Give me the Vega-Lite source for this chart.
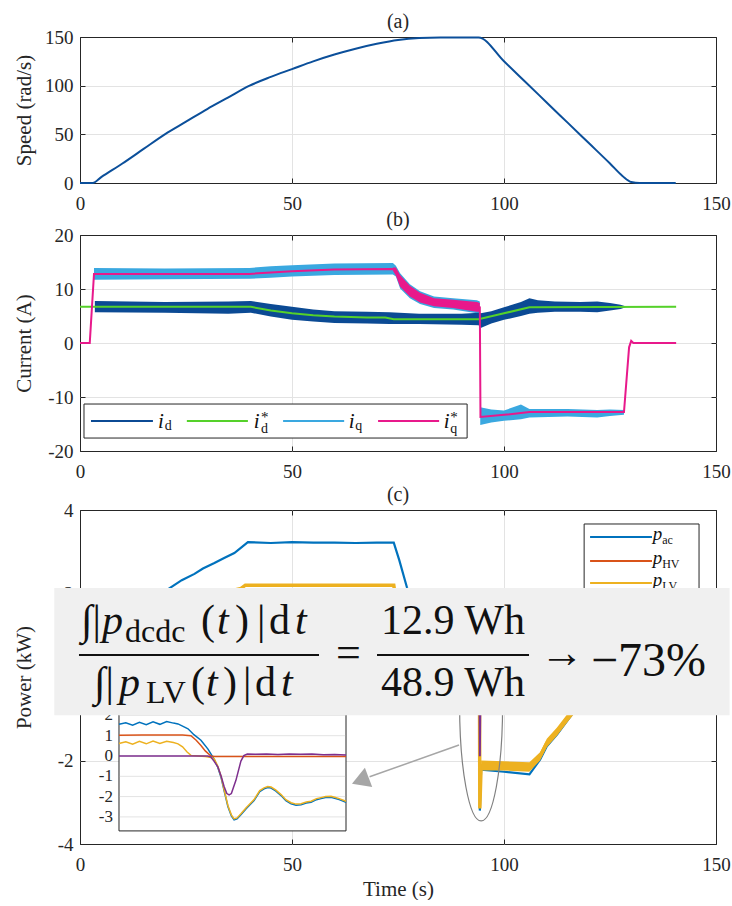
{
"$schema": "https://vega.github.io/schema/vega-lite/v6.json",
"background": "white",
"padding": {"left": 12, "top": 11, "right": 0, "bottom": 0},
"config": {
  "view": {"stroke": "#262626", "strokeWidth": 1},
  "font": "'Liberation Serif', 'DejaVu Serif', serif",
  "axis": {"labelFont": "'Liberation Serif', 'DejaVu Serif', serif", "labelFontSize": 19, "labelColor": "#262626", "titleFont": "'Liberation Serif', 'DejaVu Serif', serif", "titleFontSize": 21, "titleFontWeight": "normal", "titleColor": "#262626", "gridColor": "#e3e3e3", "gridWidth": 1, "domain": false, "tickColor": "#262626", "tickSize": -5, "tickWidth": 1, "labelFlush": false, "labelOverlap": false},
  "axisX": {"labelPadding": 16},
  "axisY": {"labelPadding": 12},
  "title": {"font": "'Liberation Serif', 'DejaVu Serif', serif", "fontSize": 20, "fontWeight": "normal", "color": "#262626", "offset": -4, "frame": "group"}
},
"datasets": {
  "speed": [{"t":0,"v":0},{"t":3,"v":0},{"t":5,"v":6},{"t":10,"v":20},{"t":15,"v":35},{"t":20,"v":50},{"t":25,"v":63},{"t":30,"v":76},{"t":35,"v":88},{"t":40,"v":100},{"t":45,"v":109},{"t":50,"v":117},{"t":55,"v":125},{"t":60,"v":132},{"t":65,"v":138},{"t":70,"v":143},{"t":75,"v":147},{"t":80,"v":149},{"t":85,"v":149.5},{"t":94,"v":149.5},{"t":100,"v":125},{"t":105,"v":104},{"t":110,"v":83},{"t":115,"v":62},{"t":120,"v":41},{"t":125,"v":20},{"t":128,"v":7},{"t":130,"v":1},{"t":132,"v":0},{"t":140.5,"v":0}],
  "idref": [{"t":0,"v":6.7},{"t":40.3,"v":6.7},{"t":45,"v":6.0},{"t":50,"v":5.5},{"t":55,"v":5.15},{"t":60,"v":4.9},{"t":67.7,"v":4.7},{"t":72,"v":4.7},{"t":74,"v":4.4},{"t":94,"v":4.4},{"t":100,"v":5.5},{"t":106,"v":6.6},{"t":140.6,"v":6.7}],
  "idband": [{"t":3.5,"lo":5.7,"hi":7.8},{"t":20,"lo":5.6,"hi":7.6},{"t":35,"lo":5.4,"hi":7.7},{"t":40.3,"lo":5.6,"hi":7.8},{"t":45,"lo":4.9,"hi":7.2},{"t":50,"lo":4.3,"hi":6.7},{"t":55,"lo":4.0,"hi":6.2},{"t":60,"lo":3.7,"hi":5.9},{"t":67.7,"lo":3.6,"hi":5.8},{"t":73,"lo":3.5,"hi":5.7},{"t":80,"lo":3.5,"hi":5.4},{"t":90,"lo":3.4,"hi":5.4},{"t":94,"lo":3.3,"hi":5.6},{"t":94.5,"lo":2.8,"hi":5.5},{"t":97,"lo":3.6,"hi":5.9},{"t":100,"lo":4.3,"hi":6.6},{"t":104,"lo":5.0,"hi":7.6},{"t":106,"lo":5.4,"hi":8.3},{"t":108,"lo":5.6,"hi":7.9},{"t":112,"lo":5.8,"hi":7.7},{"t":118,"lo":5.8,"hi":7.6},{"t":122,"lo":5.7,"hi":7.7},{"t":125,"lo":6.0,"hi":7.4},{"t":127.5,"lo":6.3,"hi":7.1},{"t":129,"lo":6.7,"hi":6.7}],
  "iqband": [{"t":3.3,"lo":11.7,"hi":13.9},{"t":20,"lo":11.8,"hi":13.8},{"t":40,"lo":11.9,"hi":13.9},{"t":45,"lo":12.1,"hi":14.2},{"t":50,"lo":12.3,"hi":14.4},{"t":60,"lo":12.6,"hi":14.7},{"t":73.8,"lo":12.7,"hi":14.8},{"t":74.5,"lo":12.3,"hi":14.3},{"t":75.5,"lo":10.1,"hi":12.9},{"t":77.8,"lo":8.3,"hi":10.9},{"t":80.2,"lo":7.2,"hi":9.6},{"t":83.5,"lo":6.5,"hi":8.6},{"t":88,"lo":6.2,"hi":8.3},{"t":93.6,"lo":5.5,"hi":7.9},{"t":94.3,"lo":5.3,"hi":7.7},{"t":94.4,"lo":-15.2,"hi":-11.9},{"t":97,"lo":-14.7,"hi":-12.3},{"t":100,"lo":-14.4,"hi":-12.5},{"t":104,"lo":-14.1,"hi":-11.4},{"t":106,"lo":-13.8,"hi":-12.2},{"t":115,"lo":-13.6,"hi":-12.2},{"t":122,"lo":-13.8,"hi":-12.4},{"t":125,"lo":-13.5,"hi":-12.3},{"t":128.3,"lo":-13.3,"hi":-12.4}],
  "iqrefband": [{"t":73.8,"lo":13.4,"hi":14.0},{"t":74.5,"lo":12.5,"hi":14.0},{"t":75.5,"lo":10.4,"hi":12.6},{"t":77.8,"lo":8.6,"hi":10.6},{"t":80.2,"lo":7.5,"hi":9.3},{"t":83.5,"lo":6.8,"hi":8.3},{"t":88,"lo":6.5,"hi":8.0},{"t":93.6,"lo":5.8,"hi":7.6},{"t":94.3,"lo":5.8,"hi":7.4}],
  "iqref": [{"t":0,"v":0},{"t":2.3,"v":0},{"t":3.3,"v":12.8},{"t":40,"v":12.8},{"t":50,"v":13.3},{"t":60,"v":13.6},{"t":73.8,"v":13.7},{"t":74.5,"v":13.2},{"t":75.5,"v":11.5},{"t":77.8,"v":9.6},{"t":80.2,"v":8.4},{"t":83.5,"v":7.6},{"t":88,"v":7.2},{"t":93.6,"v":6.7},{"t":94.3,"v":6.6},{"t":94.45,"v":-13.7},{"t":100,"v":-13.3},{"t":106,"v":-12.8},{"t":128.3,"v":-12.8},{"t":129.5,"v":-0.8},{"t":130,"v":0.4},{"t":130.5,"v":0},{"t":140.6,"v":0}],
  "legb_box": [{"t1":0.94,"t2":91.3,"a1":-11.3,"a2":-17.6}],
  "legb_lines": [{"s":"i_d","t1":2.59,"t2":17.2,"a":-14.44},{"s":"i_d*","t1":25.2,"t2":39.6,"a":-14.44},{"s":"i_q","t1":47.9,"t2":62.3,"a":-14.44},{"s":"i_q*","t1":70.3,"t2":84.7,"a":-14.44}],
  "legb_i": [{"t":18.4,"a":-15.74,"txt":"i"},{"t":41.0,"a":-15.74,"txt":"i"},{"t":63.4,"a":-15.74,"txt":"i"},{"t":85.8,"a":-15.74,"txt":"i"}],
  "legb_sub": [{"t":20.0,"a":-16.1,"txt":"d"},{"t":42.7,"a":-16.6,"txt":"d"},{"t":64.9,"a":-16.1,"txt":"q"},{"t":87.3,"a":-16.6,"txt":"q"}],
  "legb_star": [{"t":42.7,"a":-14.6,"txt":"*"},{"t":87.3,"a":-14.6,"txt":"*"}],
  "pac": [{"t":0,"v":0},{"t":3,"v":0},{"t":6,"v":0.6},{"t":10,"v":1.1},{"t":15,"v":1.6},{"t":20,"v":2.05},{"t":24,"v":2.32},{"t":27,"v":2.47},{"t":29,"v":2.6},{"t":31.7,"v":2.73},{"t":34,"v":2.85},{"t":36.4,"v":2.97},{"t":38,"v":3.1},{"t":39.6,"v":3.23},{"t":45,"v":3.21},{"t":50,"v":3.23},{"t":55,"v":3.22},{"t":60,"v":3.22},{"t":65,"v":3.21},{"t":70,"v":3.22},{"t":74,"v":3.22},{"t":75.3,"v":2.8},{"t":77.1,"v":2.15},{"t":78.5,"v":1.7},{"t":80,"v":1.6},{"t":94.2,"v":1.6},{"t":94.3,"v":-3.2},{"t":94.6,"v":-2.22},{"t":100,"v":-2.27},{"t":106,"v":-2.33},{"t":108.5,"v":-1.98},{"t":110.1,"v":-1.66},{"t":112.5,"v":-1.38},{"t":114.9,"v":-1.05},{"t":116,"v":-0.9},{"t":120,"v":-0.4},{"t":125,"v":0.2},{"t":128,"v":0.6},{"t":129.5,"v":0.1},{"t":130,"v":0},{"t":140.6,"v":0}],
  "phv": [{"t":0,"v":0},{"t":3,"v":0},{"t":5,"v":1.0},{"t":94.2,"v":1.0},{"t":94.4,"v":0},{"t":140.6,"v":0}],
  "plv": [{"t":0,"v":0},{"t":3,"v":0},{"t":6,"v":0.5},{"t":10,"v":0.9},{"t":15,"v":1.3},{"t":20,"v":1.6},{"t":25,"v":1.8},{"t":30,"v":1.95},{"t":35,"v":2.05},{"t":38,"v":2.12},{"t":39,"v":2.2},{"t":74,"v":2.2},{"t":75,"v":1.5},{"t":76.5,"v":0.8},{"t":80,"v":0.62},{"t":94.2,"v":0.62},{"t":94.3,"v":-3.15},{"t":94.6,"v":-2.12},{"t":100,"v":-2.13},{"t":106,"v":-2.16},{"t":108.5,"v":-1.9},{"t":110.1,"v":-1.58},{"t":112.5,"v":-1.31},{"t":114.9,"v":-0.99},{"t":116,"v":-0.85},{"t":120,"v":-0.35},{"t":125,"v":0.25},{"t":128,"v":0.65},{"t":129.5,"v":0.1},{"t":130,"v":0},{"t":140.6,"v":0}],
  "plvband": [{"t":94.6,"lo":-2.24,"hi":-2.0},{"t":100,"lo":-2.24,"hi":-2.02},{"t":106,"lo":-2.27,"hi":-2.04},{"t":108.5,"lo":-2.0,"hi":-1.8},{"t":110.1,"lo":-1.68,"hi":-1.48},{"t":112.5,"lo":-1.41,"hi":-1.21},{"t":114.9,"lo":-1.09,"hi":-0.89},{"t":116,"lo":-0.95,"hi":-0.75},{"t":118,"lo":-0.7,"hi":-0.5}],
  "pdc": [{"t":0,"v":0},{"t":94.2,"v":0},{"t":94.3,"v":-1.9},{"t":94.5,"v":0.08},{"t":130,"v":0.05},{"t":140.6,"v":0}],
  "legc_box": [{"t1":118.9,"t2":146.0,"v1":3.665,"v2":1.9}],
  "legc_lines": [{"s":"p_ac","t1":120.3,"t2":134.9,"v":3.353},{"s":"p_HV","t1":120.3,"t2":134.9,"v":2.778},{"s":"p_LV","t1":120.3,"t2":134.9,"v":2.251}],
  "legc_p": [{"t":135.1,"v":3.281,"txt":"p"},{"t":135.1,"v":2.707,"txt":"p"},{"t":135.1,"v":2.18,"txt":"p"}],
  "legc_sub": [{"t":137.3,"v":3.186,"txt":"ac"},{"t":137.3,"v":2.611,"txt":"HV"},{"t":137.3,"v":2.084,"txt":"LV"}],
  "ellipse": [{"t":94.6,"v":-0.67}],
  "ins_frame": [{"u1":0,"u2":100,"v1":-3.69,"v2":3.0}],
  "ins_grid": [{"v":-3},{"v":-2},{"v":-1},{"v":0},{"v":1},{"v":2}],
  "ins_labels": [{"v":2,"txt":"2"},{"v":1,"txt":"1"},{"v":0,"txt":"0"},{"v":-1,"txt":"-1"},{"v":-2,"txt":"-2"},{"v":-3,"txt":"-3"}],
  "ins_pac": [{"u":0,"v":1.56},{"u":3,"v":1.64},{"u":6,"v":1.52},{"u":9,"v":1.66},{"u":12,"v":1.54},{"u":15,"v":1.68},{"u":18,"v":1.56},{"u":21,"v":1.7},{"u":24,"v":1.62},{"u":26,"v":1.58},{"u":28,"v":1.47},{"u":30.4,"v":1.34},{"u":33,"v":1.05},{"u":36.1,"v":0.78},{"u":39.2,"v":0.34},{"u":41.9,"v":-0.15},{"u":43.5,"v":-0.55},{"u":44.9,"v":-1.03},{"u":46.5,"v":-1.8},{"u":48,"v":-2.5},{"u":49.5,"v":-2.95},{"u":50.7,"v":-3.15},{"u":52,"v":-3.1},{"u":53.7,"v":-2.9},{"u":56,"v":-2.6},{"u":59.5,"v":-2.2},{"u":62,"v":-1.75},{"u":63.9,"v":-1.62},{"u":65.5,"v":-1.55},{"u":67,"v":-1.58},{"u":69,"v":-1.72},{"u":71.4,"v":-1.95},{"u":73.5,"v":-2.2},{"u":75.8,"v":-2.35},{"u":78,"v":-2.42},{"u":80.2,"v":-2.4},{"u":82.5,"v":-2.32},{"u":84.6,"v":-2.28},{"u":87,"v":-2.15},{"u":89,"v":-2.1},{"u":91,"v":-2.05},{"u":93.4,"v":-2.03},{"u":95,"v":-2.08},{"u":97,"v":-2.15},{"u":100,"v":-2.28}],
  "ins_plv": [{"u":0,"v":0.62},{"u":3,"v":0.7},{"u":6,"v":0.58},{"u":9,"v":0.72},{"u":12,"v":0.6},{"u":15,"v":0.74},{"u":18,"v":0.62},{"u":21,"v":0.73},{"u":24,"v":0.66},{"u":26,"v":0.6},{"u":28,"v":0.45},{"u":30,"v":0.2},{"u":31.7,"v":0.03},{"u":35,"v":0.0},{"u":38,"v":-0.03},{"u":40,"v":-0.06},{"u":41.9,"v":-0.13},{"u":43.5,"v":-0.5},{"u":44.9,"v":-0.98},{"u":46.5,"v":-1.75},{"u":48,"v":-2.45},{"u":49.5,"v":-2.9},{"u":50.7,"v":-3.1},{"u":52,"v":-3.05},{"u":53.7,"v":-2.85},{"u":56,"v":-2.55},{"u":59.5,"v":-2.15},{"u":62,"v":-1.7},{"u":63.9,"v":-1.57},{"u":65.5,"v":-1.5},{"u":67,"v":-1.53},{"u":69,"v":-1.67},{"u":71.4,"v":-1.9},{"u":73.5,"v":-2.15},{"u":75.8,"v":-2.3},{"u":78,"v":-2.37},{"u":80.2,"v":-2.35},{"u":82.5,"v":-2.27},{"u":84.6,"v":-2.23},{"u":87,"v":-2.1},{"u":89,"v":-2.05},{"u":91,"v":-2.0},{"u":93.4,"v":-1.98},{"u":95,"v":-2.03},{"u":97,"v":-2.1},{"u":100,"v":-2.23}],
  "ins_phv": [{"u":0,"v":1.02},{"u":10,"v":1.03},{"u":20,"v":1.04},{"u":28,"v":1.03},{"u":31.7,"v":1.0},{"u":34,"v":0.78},{"u":36.1,"v":0.52},{"u":38,"v":0.25},{"u":40.5,"v":0.0},{"u":42,"v":-0.03},{"u":100,"v":-0.03}],
  "ins_pdc": [{"u":0,"v":0},{"u":39,"v":0},{"u":40.5,"v":-0.05},{"u":42,"v":-0.28},{"u":43.6,"v":-0.55},{"u":45,"v":-1.0},{"u":46.3,"v":-1.5},{"u":47.5,"v":-1.85},{"u":48.5,"v":-1.92},{"u":49.5,"v":-1.85},{"u":51.5,"v":-1.2},{"u":53.7,"v":-0.25},{"u":55,"v":0.02},{"u":56.5,"v":0.1},{"u":60,"v":0.09},{"u":65,"v":0.1},{"u":70,"v":0.07},{"u":75,"v":0.1},{"u":80,"v":0.08},{"u":85,"v":0.1},{"u":90,"v":0.06},{"u":95,"v":0.07},{"u":100,"v":0.05}],
  "gbox": [{"t1":-6.06,"t2":153.2,"v1":2.132,"v2":-0.917}],
  "fbars": [{"t1":-0.24,"t2":56.37,"v":0.527},{"t1":70.05,"t2":105.9,"v":0.527}],
  "fx_norm": [{"t":0.24,"v":1.03,"txt":"∫|"},{"t":28.54,"v":1.03,"txt":"("},{"t":36.56,"v":1.03,"txt":")"},{"t":41.75,"v":1.03,"txt":"|"},{"t":44.58,"v":1.03,"txt":"d"},{"t":3.3,"v":-0.455,"txt":"∫|"},{"t":26.18,"v":-0.455,"txt":"("},{"t":33.73,"v":-0.455,"txt":")"},{"t":38.44,"v":-0.455,"txt":"|"},{"t":41.27,"v":-0.455,"txt":"d"}],
  "fx_ital": [{"t":5.19,"v":1.03,"txt":"p"},{"t":32.31,"v":1.03,"txt":"t"},{"t":50.71,"v":1.03,"txt":"t"},{"t":9.2,"v":-0.455,"txt":"p"},{"t":29.72,"v":-0.455,"txt":"t"},{"t":47.41,"v":-0.455,"txt":"t"}],
  "fx_sub": [{"t":10.61,"v":0.838,"txt":"dcdc"},{"t":15.57,"v":-0.623,"txt":"LV"}],
  "fx_center": [{"t":87.97,"v":1.03,"txt":"12.9 Wh"},{"t":87.97,"v":-0.455,"txt":"48.9 Wh"}],
  "fx_mid": [{"t":63.3,"v":0.551,"txt":"="},{"t":113.7,"v":0.551,"txt":"→"}],
  "fx_big": [{"t":120.5,"v":0.024,"txt":"−73%"}],
  "arrow_line": [{"t1":89.39,"v1":-1.63,"t2":68.3,"v2":-2.39}],
  "arrow_head": [{"t":66.1,"v":-2.48}]
},
"spacing": 2,
"resolve": {"scale": {"color": "independent"}},
"vconcat": [
 {"spacing": -5, "vconcat": [
  {
   "title": "(a)", "width": 636, "height": 146,
   "data": {"name": "speed"},
   "layer": [
    {"mark": {"type": "line", "color": "#0B4F9A", "strokeWidth": 2, "interpolate": "monotone"},
     "encoding": {
      "x": {"field": "t", "type": "quantitative", "scale": {"domain": [0,150], "nice": false, "zero": false}, "axis": {"orient": "bottom", "values": [0,50,100,150], "title": null, "grid": true, "gridOpacity": {"condition": {"test": "datum.value <= 0 || datum.value >= 150", "value": 0}, "value": 1}}},
      "y": {"field": "v", "type": "quantitative", "scale": {"domain": [0,150], "nice": false, "zero": false}, "axis": {"orient": "left", "values": [0,50,100,150], "title": "Speed (rad/s)", "titleX": -50, "titleBaseline": "alphabetic", "grid": true, "gridOpacity": {"condition": {"test": "datum.value <= 0 || datum.value >= 150", "value": 0}, "value": 1}}}
     }},
    {"mark": {"type": "line", "opacity": 0},
     "encoding": {
      "x": {"field": "t", "type": "quantitative", "scale": {"domain": [0,150], "nice": false, "zero": false}, "axis": {"orient": "top", "values": [0,50,100,150], "labels": false, "grid": false, "title": null}},
      "y": {"field": "v", "type": "quantitative", "scale": {"domain": [0,150], "nice": false, "zero": false}, "axis": {"orient": "right", "values": [0,50,100,150], "labels": false, "grid": false, "title": null}}
     }}
   ],
   "resolve": {"axis": {"x": "independent", "y": "independent"}}
  },
  {
   "title": "(b)", "width": 636, "height": 216,
   "layer": [
    {"data": {"name": "iqband"}, "mark": {"type": "area", "color": "#3AA8E0"},
     "encoding": {
      "x": {"field": "t", "type": "quantitative", "scale": {"domain": [0,150], "nice": false, "zero": false}, "axis": {"orient": "bottom", "values": [0,50,100,150], "title": null, "grid": true, "gridOpacity": {"condition": {"test": "datum.value <= 0 || datum.value >= 150", "value": 0}, "value": 1}}},
      "y": {"field": "lo", "type": "quantitative", "scale": {"domain": [-20,20], "nice": false, "zero": false}, "axis": {"orient": "left", "values": [-20,-10,0,10,20], "title": "Current (A)", "titleX": -50, "titleBaseline": "alphabetic", "labelExpr": "replace(datum.label, '−', '-')", "grid": true, "gridOpacity": {"condition": {"test": "datum.value <= -20 || datum.value >= 20", "value": 0}, "value": 1}}},
      "y2": {"field": "hi"}
     }},
    {"data": {"name": "idband"}, "mark": {"type": "area", "color": "#0B4A94"},
     "encoding": {
      "x": {"field": "t", "type": "quantitative", "scale": {"domain": [0,150], "nice": false, "zero": false}, "axis": null},
      "y": {"field": "lo", "type": "quantitative", "scale": {"domain": [-20,20], "nice": false, "zero": false}, "axis": null},
      "y2": {"field": "hi"}
     }},
    {"data": {"name": "idref"}, "mark": {"type": "line", "color": "#55D12A", "strokeWidth": 2},
     "encoding": {
      "x": {"field": "t", "type": "quantitative", "scale": {"domain": [0,150], "nice": false, "zero": false}, "axis": null},
      "y": {"field": "v", "type": "quantitative", "scale": {"domain": [-20,20], "nice": false, "zero": false}, "axis": null}
     }},
    {"data": {"name": "iqrefband"}, "mark": {"type": "area", "color": "#E8198B"},
     "encoding": {
      "x": {"field": "t", "type": "quantitative", "scale": {"domain": [0,150], "nice": false, "zero": false}, "axis": null},
      "y": {"field": "lo", "type": "quantitative", "scale": {"domain": [-20,20], "nice": false, "zero": false}, "axis": null},
      "y2": {"field": "hi"}
     }},
    {"data": {"name": "iqref"}, "mark": {"type": "line", "color": "#E8198B", "strokeWidth": 2},
     "encoding": {
      "x": {"field": "t", "type": "quantitative", "scale": {"domain": [0,150], "nice": false, "zero": false}, "axis": null},
      "y": {"field": "v", "type": "quantitative", "scale": {"domain": [-20,20], "nice": false, "zero": false}, "axis": null}
     }},
    {"data": {"name": "legb_box"}, "mark": {"type": "rect", "fill": "white", "stroke": "#262626", "strokeWidth": 1},
     "encoding": {
      "x": {"field": "t1", "type": "quantitative", "scale": {"domain": [0,150], "nice": false, "zero": false}, "axis": null},
      "x2": {"field": "t2"},
      "y": {"field": "a1", "type": "quantitative", "scale": {"domain": [-20,20], "nice": false, "zero": false}, "axis": null},
      "y2": {"field": "a2"}
     }},
    {"data": {"name": "legb_lines"}, "mark": {"type": "rule", "strokeWidth": 1.8},
     "encoding": {
      "x": {"field": "t1", "type": "quantitative", "scale": {"domain": [0,150], "nice": false, "zero": false}, "axis": null},
      "x2": {"field": "t2"},
      "y": {"field": "a", "type": "quantitative", "scale": {"domain": [-20,20], "nice": false, "zero": false}, "axis": null},
      "color": {"field": "s", "type": "nominal", "scale": {"domain": ["i_d","i_d*","i_q","i_q*"], "range": ["#0B4A94","#55D12A","#3AA8E0","#E8198B"]}, "legend": null}
     }},
    {"data": {"name": "legb_i"}, "mark": {"type": "text", "font": "'Liberation Serif', 'DejaVu Serif', serif", "fontSize": 21, "fontStyle": "italic", "align": "left", "baseline": "alphabetic", "color": "#111"},
     "encoding": {
      "x": {"field": "t", "type": "quantitative", "scale": {"domain": [0,150], "nice": false, "zero": false}, "axis": null},
      "y": {"field": "a", "type": "quantitative", "scale": {"domain": [-20,20], "nice": false, "zero": false}, "axis": null},
      "text": {"field": "txt"}
     }},
    {"data": {"name": "legb_sub"}, "mark": {"type": "text", "font": "'Liberation Serif', 'DejaVu Serif', serif", "fontSize": 14, "align": "left", "baseline": "alphabetic", "color": "#111"},
     "encoding": {
      "x": {"field": "t", "type": "quantitative", "scale": {"domain": [0,150], "nice": false, "zero": false}, "axis": null},
      "y": {"field": "a", "type": "quantitative", "scale": {"domain": [-20,20], "nice": false, "zero": false}, "axis": null},
      "text": {"field": "txt"}
     }},
    {"data": {"name": "legb_star"}, "mark": {"type": "text", "font": "'Liberation Serif', 'DejaVu Serif', serif", "fontSize": 15, "align": "left", "baseline": "alphabetic", "color": "#111"},
     "encoding": {
      "x": {"field": "t", "type": "quantitative", "scale": {"domain": [0,150], "nice": false, "zero": false}, "axis": null},
      "y": {"field": "a", "type": "quantitative", "scale": {"domain": [-20,20], "nice": false, "zero": false}, "axis": null},
      "text": {"field": "txt"}
     }},
    {"data": {"name": "iqref"}, "mark": {"type": "line", "opacity": 0},
     "encoding": {
      "x": {"field": "t", "type": "quantitative", "scale": {"domain": [0,150], "nice": false, "zero": false}, "axis": {"orient": "top", "values": [0,50,100,150], "labels": false, "grid": false, "title": null}},
      "y": {"field": "v", "type": "quantitative", "scale": {"domain": [-20,20], "nice": false, "zero": false}, "axis": {"orient": "right", "values": [-20,-10,0,10,20], "labels": false, "grid": false, "title": null}}
     }}
   ],
   "resolve": {"axis": {"x": "independent", "y": "independent"}}
  }
 ]},
 {
  "title": "(c)", "width": 636, "height": 334,
  "layer": [
   {
    "layer": [
     {"data": {"name": "pac"}, "mark": {"type": "line", "color": "#0072BD", "strokeWidth": 2.2},
      "encoding": {
       "x": {"field": "t", "type": "quantitative", "scale": {"domain": [0,150], "nice": false, "zero": false}, "axis": {"orient": "bottom", "values": [0,50,100,150], "title": "Time (s)", "titlePadding": 4, "grid": true, "gridOpacity": {"condition": {"test": "datum.value <= 0 || datum.value >= 150", "value": 0}, "value": 1}}},
       "y": {"field": "v", "type": "quantitative", "scale": {"domain": [-4,4], "nice": false, "zero": false}, "axis": {"orient": "left", "values": [-4,-2,0,2,4], "title": "Power (kW)", "titleX": -50, "titleBaseline": "alphabetic", "labelExpr": "replace(datum.label, '−', '-')", "grid": true, "gridOpacity": {"condition": {"test": "datum.value <= -4 || datum.value >= 4", "value": 0}, "value": 1}}}
      }},
     {"data": {"name": "phv"}, "mark": {"type": "line", "color": "#D95319", "strokeWidth": 2},
      "encoding": {
       "x": {"field": "t", "type": "quantitative", "scale": {"domain": [0,150], "nice": false, "zero": false}, "axis": null},
       "y": {"field": "v", "type": "quantitative", "scale": {"domain": [-4,4], "nice": false, "zero": false}, "axis": null}
      }},
     {"data": {"name": "plv"}, "mark": {"type": "line", "color": "#EDB120", "strokeWidth": 3.5},
      "encoding": {
       "x": {"field": "t", "type": "quantitative", "scale": {"domain": [0,150], "nice": false, "zero": false}, "axis": null},
       "y": {"field": "v", "type": "quantitative", "scale": {"domain": [-4,4], "nice": false, "zero": false}, "axis": null}
      }},
     {"data": {"name": "plvband"}, "mark": {"type": "area", "color": "#EDB120"},
      "encoding": {
       "x": {"field": "t", "type": "quantitative", "scale": {"domain": [0,150], "nice": false, "zero": false}, "axis": null},
       "y": {"field": "lo", "type": "quantitative", "scale": {"domain": [-4,4], "nice": false, "zero": false}, "axis": null},
       "y2": {"field": "hi"}
      }},
     {"data": {"name": "pdc"}, "mark": {"type": "line", "color": "#7E2F8E", "strokeWidth": 2},
      "encoding": {
       "x": {"field": "t", "type": "quantitative", "scale": {"domain": [0,150], "nice": false, "zero": false}, "axis": null},
       "y": {"field": "v", "type": "quantitative", "scale": {"domain": [-4,4], "nice": false, "zero": false}, "axis": null}
      }},
     {"data": {"name": "legc_box"}, "mark": {"type": "rect", "fill": "white", "stroke": "#262626", "strokeWidth": 1},
      "encoding": {
       "x": {"field": "t1", "type": "quantitative", "scale": {"domain": [0,150], "nice": false, "zero": false}, "axis": null},
       "x2": {"field": "t2"},
       "y": {"field": "v1", "type": "quantitative", "scale": {"domain": [-4,4], "nice": false, "zero": false}, "axis": null},
       "y2": {"field": "v2"}
      }},
     {"data": {"name": "legc_lines"}, "mark": {"type": "rule", "strokeWidth": 1.8},
      "encoding": {
       "x": {"field": "t1", "type": "quantitative", "scale": {"domain": [0,150], "nice": false, "zero": false}, "axis": null},
       "x2": {"field": "t2"},
       "y": {"field": "v", "type": "quantitative", "scale": {"domain": [-4,4], "nice": false, "zero": false}, "axis": null},
       "color": {"field": "s", "type": "nominal", "scale": {"domain": ["p_ac","p_HV","p_LV"], "range": ["#0072BD","#D95319","#EDB120"]}, "legend": null}
      }},
     {"data": {"name": "legc_p"}, "mark": {"type": "text", "font": "'Liberation Serif', 'DejaVu Serif', serif", "fontSize": 19, "fontStyle": "italic", "align": "left", "baseline": "alphabetic", "color": "#111"},
      "encoding": {
       "x": {"field": "t", "type": "quantitative", "scale": {"domain": [0,150], "nice": false, "zero": false}, "axis": null},
       "y": {"field": "v", "type": "quantitative", "scale": {"domain": [-4,4], "nice": false, "zero": false}, "axis": null},
       "text": {"field": "txt"}
      }},
     {"data": {"name": "legc_sub"}, "mark": {"type": "text", "font": "'Liberation Serif', 'DejaVu Serif', serif", "fontSize": 12, "align": "left", "baseline": "alphabetic", "color": "#111"},
      "encoding": {
       "x": {"field": "t", "type": "quantitative", "scale": {"domain": [0,150], "nice": false, "zero": false}, "axis": null},
       "y": {"field": "v", "type": "quantitative", "scale": {"domain": [-4,4], "nice": false, "zero": false}, "axis": null},
       "text": {"field": "txt"}
      }},
     {"data": {"name": "ellipse"}, "mark": {"type": "point", "shape": "M -0.1853 0 A 0.1853 1 0 1 0 0.1853 0 A 0.1853 1 0 1 0 -0.1853 0 Z", "size": 53824, "filled": false, "stroke": "#808080", "strokeWidth": 1.2, "opacity": 1},
      "encoding": {
       "x": {"field": "t", "type": "quantitative", "scale": {"domain": [0,150], "nice": false, "zero": false}, "axis": null},
       "y": {"field": "v", "type": "quantitative", "scale": {"domain": [-4,4], "nice": false, "zero": false}, "axis": null}
      }},
     {"data": {"name": "pac"}, "mark": {"type": "line", "opacity": 0},
      "encoding": {
       "x": {"field": "t", "type": "quantitative", "scale": {"domain": [0,150], "nice": false, "zero": false}, "axis": {"orient": "top", "values": [0,50,100,150], "labels": false, "grid": false, "title": null}},
       "y": {"field": "v", "type": "quantitative", "scale": {"domain": [-4,4], "nice": false, "zero": false}, "axis": {"orient": "right", "values": [-4,-2,0,2,4], "labels": false, "grid": false, "title": null}}
      }}
    ],
    "resolve": {"axis": {"x": "independent", "y": "independent"}}
   },
   {
    "layer": [
     {"data": {"name": "ins_frame"}, "mark": {"type": "rect", "fill": "white", "stroke": "#262626", "strokeWidth": 1},
      "encoding": {
       "x": {"field": "u1", "type": "quantitative", "scale": {"domain": [-17.18,262.99], "nice": false, "zero": false}, "axis": null},
       "x2": {"field": "u2"},
       "y": {"field": "v1", "type": "quantitative", "scale": {"domain": [-4.335,12.118], "nice": false, "zero": false}, "axis": null},
       "y2": {"field": "v2"}
      }},
     {"data": {"name": "ins_grid"}, "mark": {"type": "rule", "color": "#e3e3e3", "strokeWidth": 1},
      "encoding": {
       "x": {"datum": 0.4, "type": "quantitative", "scale": {"domain": [-17.18,262.99], "nice": false, "zero": false}, "axis": null},
       "x2": {"datum": 99.6},
       "y": {"field": "v", "type": "quantitative", "scale": {"domain": [-4.335,12.118], "nice": false, "zero": false}, "axis": null}
      }},
     {"data": {"name": "ins_pac"}, "mark": {"type": "line", "color": "#0072BD", "strokeWidth": 1.5},
      "encoding": {
       "x": {"field": "u", "type": "quantitative", "scale": {"domain": [-17.18,262.99], "nice": false, "zero": false}, "axis": null},
       "y": {"field": "v", "type": "quantitative", "scale": {"domain": [-4.335,12.118], "nice": false, "zero": false}, "axis": null}
      }},
     {"data": {"name": "ins_phv"}, "mark": {"type": "line", "color": "#D95319", "strokeWidth": 1.5},
      "encoding": {
       "x": {"field": "u", "type": "quantitative", "scale": {"domain": [-17.18,262.99], "nice": false, "zero": false}, "axis": null},
       "y": {"field": "v", "type": "quantitative", "scale": {"domain": [-4.335,12.118], "nice": false, "zero": false}, "axis": null}
      }},
     {"data": {"name": "ins_plv"}, "mark": {"type": "line", "color": "#EDB120", "strokeWidth": 1.5},
      "encoding": {
       "x": {"field": "u", "type": "quantitative", "scale": {"domain": [-17.18,262.99], "nice": false, "zero": false}, "axis": null},
       "y": {"field": "v", "type": "quantitative", "scale": {"domain": [-4.335,12.118], "nice": false, "zero": false}, "axis": null}
      }},
     {"data": {"name": "ins_pdc"}, "mark": {"type": "line", "color": "#7E2F8E", "strokeWidth": 1.5},
      "encoding": {
       "x": {"field": "u", "type": "quantitative", "scale": {"domain": [-17.18,262.99], "nice": false, "zero": false}, "axis": null},
       "y": {"field": "v", "type": "quantitative", "scale": {"domain": [-4.335,12.118], "nice": false, "zero": false}, "axis": null}
      }},
     {"data": {"name": "ins_labels"}, "mark": {"type": "text", "font": "'Liberation Serif', 'DejaVu Serif', serif", "fontSize": 17, "align": "right", "baseline": "middle", "color": "#262626"},
      "encoding": {
       "x": {"datum": -2.64, "type": "quantitative", "scale": {"domain": [-17.18,262.99], "nice": false, "zero": false}, "axis": null},
       "y": {"field": "v", "type": "quantitative", "scale": {"domain": [-4.335,12.118], "nice": false, "zero": false}, "axis": null},
       "text": {"field": "txt"}
      }}
    ]
   },
   {
    "layer": [
     {"data": {"name": "gbox"}, "mark": {"type": "rect", "fill": "#f0f0f0"},
      "encoding": {
       "x": {"field": "t1", "type": "quantitative", "scale": {"domain": [0,150], "nice": false, "zero": false}, "axis": null},
       "x2": {"field": "t2"},
       "y": {"field": "v1", "type": "quantitative", "scale": {"domain": [-4,4], "nice": false, "zero": false}, "axis": null},
       "y2": {"field": "v2"}
      }},
     {"data": {"name": "fbars"}, "mark": {"type": "rule", "color": "#111", "strokeWidth": 2},
      "encoding": {
       "x": {"field": "t1", "type": "quantitative", "scale": {"domain": [0,150], "nice": false, "zero": false}, "axis": null},
       "x2": {"field": "t2"},
       "y": {"field": "v", "type": "quantitative", "scale": {"domain": [-4,4], "nice": false, "zero": false}, "axis": null}
      }},
     {"data": {"name": "fx_norm"}, "mark": {"type": "text", "font": "'Liberation Serif', 'DejaVu Serif', serif", "fontSize": 42, "align": "left", "baseline": "alphabetic", "color": "#111"},
      "encoding": {
       "x": {"field": "t", "type": "quantitative", "scale": {"domain": [0,150], "nice": false, "zero": false}, "axis": null},
       "y": {"field": "v", "type": "quantitative", "scale": {"domain": [-4,4], "nice": false, "zero": false}, "axis": null},
       "text": {"field": "txt"}
      }},
     {"data": {"name": "fx_ital"}, "mark": {"type": "text", "font": "'Liberation Serif', 'DejaVu Serif', serif", "fontSize": 42, "fontStyle": "italic", "align": "left", "baseline": "alphabetic", "color": "#111"},
      "encoding": {
       "x": {"field": "t", "type": "quantitative", "scale": {"domain": [0,150], "nice": false, "zero": false}, "axis": null},
       "y": {"field": "v", "type": "quantitative", "scale": {"domain": [-4,4], "nice": false, "zero": false}, "axis": null},
       "text": {"field": "txt"}
      }},
     {"data": {"name": "fx_sub"}, "mark": {"type": "text", "font": "'Liberation Serif', 'DejaVu Serif', serif", "fontSize": 32, "align": "left", "baseline": "alphabetic", "color": "#111"},
      "encoding": {
       "x": {"field": "t", "type": "quantitative", "scale": {"domain": [0,150], "nice": false, "zero": false}, "axis": null},
       "y": {"field": "v", "type": "quantitative", "scale": {"domain": [-4,4], "nice": false, "zero": false}, "axis": null},
       "text": {"field": "txt"}
      }},
     {"data": {"name": "fx_center"}, "mark": {"type": "text", "font": "'Liberation Serif', 'DejaVu Serif', serif", "fontSize": 42, "align": "center", "baseline": "alphabetic", "color": "#111"},
      "encoding": {
       "x": {"field": "t", "type": "quantitative", "scale": {"domain": [0,150], "nice": false, "zero": false}, "axis": null},
       "y": {"field": "v", "type": "quantitative", "scale": {"domain": [-4,4], "nice": false, "zero": false}, "axis": null},
       "text": {"field": "txt"}
      }},
     {"data": {"name": "fx_mid"}, "mark": {"type": "text", "font": "'Liberation Serif', 'DejaVu Serif', serif", "fontSize": 44, "align": "center", "baseline": "middle", "color": "#111"},
      "encoding": {
       "x": {"field": "t", "type": "quantitative", "scale": {"domain": [0,150], "nice": false, "zero": false}, "axis": null},
       "y": {"field": "v", "type": "quantitative", "scale": {"domain": [-4,4], "nice": false, "zero": false}, "axis": null},
       "text": {"field": "txt"}
      }},
     {"data": {"name": "fx_big"}, "mark": {"type": "text", "font": "'Liberation Serif', 'DejaVu Serif', serif", "fontSize": 48, "align": "left", "baseline": "alphabetic", "color": "#111"},
      "encoding": {
       "x": {"field": "t", "type": "quantitative", "scale": {"domain": [0,150], "nice": false, "zero": false}, "axis": null},
       "y": {"field": "v", "type": "quantitative", "scale": {"domain": [-4,4], "nice": false, "zero": false}, "axis": null},
       "text": {"field": "txt"}
      }},
     {"data": {"name": "arrow_line"}, "mark": {"type": "rule", "color": "#a6a6a6", "strokeWidth": 1.5},
      "encoding": {
       "x": {"field": "t1", "type": "quantitative", "scale": {"domain": [0,150], "nice": false, "zero": false}, "axis": null},
       "y": {"field": "v1", "type": "quantitative", "scale": {"domain": [-4,4], "nice": false, "zero": false}, "axis": null},
       "x2": {"field": "t2"},
       "y2": {"field": "v2"}
      }},
     {"data": {"name": "arrow_head"}, "mark": {"type": "point", "shape": "triangle-left", "size": 420, "angle": 339, "filled": true, "color": "#a6a6a6", "opacity": 1},
      "encoding": {
       "x": {"field": "t", "type": "quantitative", "scale": {"domain": [0,150], "nice": false, "zero": false}, "axis": null},
       "y": {"field": "v", "type": "quantitative", "scale": {"domain": [-4,4], "nice": false, "zero": false}, "axis": null}
      }}
    ]
   }
  ],
  "resolve": {"scale": {"x": "independent", "y": "independent"}, "axis": {"x": "independent", "y": "independent"}}
 }
]
}
